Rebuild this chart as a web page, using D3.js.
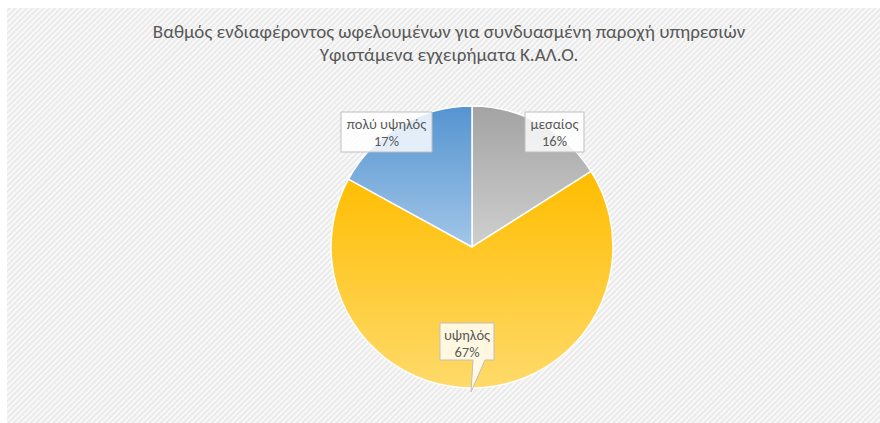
<!DOCTYPE html>
<html>
<head>
<meta charset="utf-8">
<script src="https://cdn.jsdelivr.net/npm/d3@7"></script>
<style>
  body { margin: 0; background: #fff; }
  svg { display: block; font-family: Carlito, Calibri, "Open Sans", sans-serif; }
</style>
</head>
<body>
<svg width="880" height="423"></svg>
<script>
// values, clockwise from 12 o'clock
const categories = ['μεσαίος', 'υψηλός', 'πολύ υψηλός']
const shares = [16, 67, 17]
const titleLines = ['Βαθμός ενδιαφέροντος ωφελουμένων για συνδυασμένη παροχή υπηρεσιών', 'Υφιστάμενα εγχειρήματα Κ.ΑΛ.Ο.']

// gradient colours per slice: top -> bottom
const sliceColours = [['#a3a3a3', '#cfcfcf'], ['#ffbd00', '#ffda6a'], ['#5594d0', '#a2c6e8']]

const svg = d3.select('svg')
const width = 880, height = 423
const cx = 472, cy = 247, radius = 141

const defs = svg.append('defs')

//hatched chart background
const pat = defs.append('pattern')
  .attr('id', 'hatch')
  .attr('patternUnits', 'userSpaceOnUse')
  .attr('width', 4).attr('height', 4)
  .attr('patternTransform', 'rotate(45)')
pat.append('rect').attr('width', 4).attr('height', 4).attr('fill', '#f8f8f8')
pat.append('rect').attr('width', 1.5).attr('height', 4).attr('fill', '#e6e6e6')

svg.append('rect')
  .attr('x', 7).attr('y', 8)
  .attr('width', width - 7).attr('height', height - 8)
  .attr('fill', 'url(#hatch)')

sliceColours.forEach((c, i) => {
  const g = defs.append('linearGradient')
    .attr('id', 'grad' + i)
    .attr('x1', 0).attr('y1', 0).attr('x2', 0).attr('y2', 1)
  g.append('stop').attr('offset', '0%').attr('stop-color', c[0])
  g.append('stop').attr('offset', '100%').attr('stop-color', c[1])
})

//title
svg.append('g')
  .selectAll('text')
  .data(titleLines)
  .join('text')
    .attr('x', 449)
    .attr('y', (d, i) => 38 + i * 23)
    .attr('text-anchor', 'middle')
    .attr('fill', '#595959')
    .attr('font-size', 19)
    .text(d => d)

const data = categories.map((name, i) => ({ name, value: shares[i] }))

const pie = d3.pie().sort(null).value(d => d.value)
const arc = d3.arc().innerRadius(0).outerRadius(radius)
const arcs = pie(data)

const chart = svg.append('g').attr('transform', `translate(${cx},${cy})`)

chart.selectAll('path')
  .data(arcs)
  .join('path')
    .attr('d', arc)
    .attr('fill', (d, i) => `url(#grad${i})`)
    .attr('stroke', '#fff')
    .attr('stroke-width', 1.5)

//label boxes, positioned relative to the pie centre
//tail = [right foot x, tip x, tip drop, left foot x] relative to the box
const labels = [
  { x: 53, y: -135, w: 59, h: 40 },
  { x: -32, y: 76, w: 54, h: 37, tail: [45, 31, 32, 33] },
  { x: -131, y: -135, w: 91, h: 40 }
]

const lab = chart.selectAll('.label')
  .data(arcs)
  .join('g')
    .attr('class', 'label')
    .attr('transform', (d, i) => `translate(${labels[i].x},${labels[i].y})`)

lab.each(function(d, i) {
  const L = labels[i]
  const g = d3.select(this)
  let path = `M0,0H${L.w}V${L.h}`
  if (L.tail) {
    const t = L.tail
    path += `H${t[0]}L${t[1]},${L.h + t[2]}L${t[3]},${L.h}`
  }
  path += 'H0Z'
  g.append('path')
    .attr('d', path)
    .attr('fill', 'rgba(255,255,255,0.82)')
    .attr('stroke', '#bfbfbf')
    .attr('stroke-width', 1)
  g.append('text')
    .attr('x', L.w / 2).attr('y', 17)
    .attr('text-anchor', 'middle')
    .attr('fill', '#595959')
    .attr('font-size', 14.5)
    .text(d.data.name)
  g.append('text')
    .attr('x', L.w / 2).attr('y', 34)
    .attr('text-anchor', 'middle')
    .attr('fill', '#595959')
    .attr('font-size', 14.5)
    .text(d.data.value + '%')
})
</script>
</body>
</html>
